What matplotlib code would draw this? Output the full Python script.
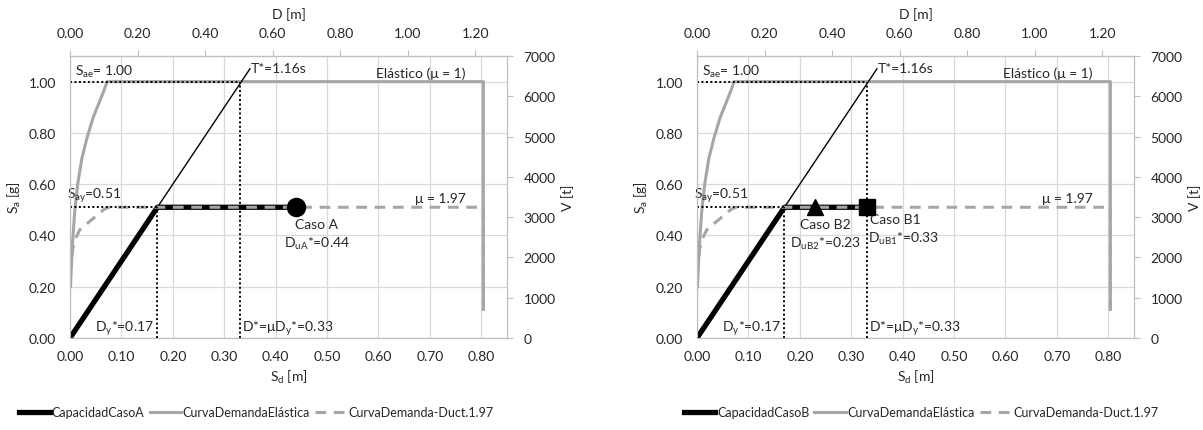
import matplotlib
matplotlib.use("Agg")
import matplotlib.pyplot as plt
from matplotlib.lines import Line2D

plt.rcParams['font.family'] = ['Lato', 'DejaVu Sans']
plt.rcParams['mathtext.fontset'] = 'custom'
plt.rcParams['mathtext.rm'] = 'Lato'
plt.rcParams['mathtext.default'] = 'regular'
FS = 10
plt.rcParams['font.size'] = FS

# ---------------- data ----------------
sd_cap_A = [0.0, 0.17, 0.44]
sa_cap_A = [0.0, 0.51, 0.51]
sd_cap_B = [0.0, 0.17, 0.33]
sa_cap_B = [0.0, 0.51, 0.51]

sd_elastic = [0.001, 0.002, 0.005, 0.009, 0.015, 0.023, 0.033, 0.045, 0.057, 0.066, 0.072, 0.804, 0.804]
sa_elastic = [0.20, 0.256, 0.372, 0.49, 0.60, 0.70, 0.78, 0.86, 0.92, 0.965, 1.00, 1.00, 0.13]

sd_ductile = [0.001, 0.003, 0.005, 0.0097, 0.019, 0.042, 0.065, 0.075, 0.804, 0.804]
sa_ductile = [0.25, 0.306, 0.345, 0.384, 0.422, 0.461, 0.50, 0.51, 0.51, 0.08]

sd_period = [0.0, 0.35]
sa_period = [0.0, 1.05]

Sae = 1.00
Say = 0.51
Dy = 0.17
Dmu = 0.33
mu = 1.97
T_star = 1.16

caseA_sd = 0.44
caseB1_sd = 0.33
caseB2_sd = 0.23

D_factor = 1.522       # D [m] / Sd [m]
V_max = 7000           # V [t] at top of axis
sa_top = 1.1

xticks_sd = [0.0, 0.1, 0.2, 0.3, 0.4, 0.5, 0.6, 0.7, 0.8]
yticks_sa = [0.0, 0.2, 0.4, 0.6, 0.8, 1.0]
xticks_D = [0.0, 0.2, 0.4, 0.6, 0.8, 1.0, 1.2]
yticks_V = [0, 1000, 2000, 3000, 4000, 5000, 6000, 7000]

GRAY = '#a6a6a6'
GRID = '#d9d9d9'
SPINE = '#bfbfbf'
TXT = '#262626'

fig = plt.figure(figsize=(12.03, 4.31), dpi=100)
W, H = 1203, 431


def panel(x0, x1, cap_sd, cap_sa, cap_label, markers, legend_cx):
    ax = fig.add_axes([x0 / W, 1 - 339 / H, (x1 - x0) / W, (339 - 57) / H])
    ax.set_xlim(0, 0.85)
    ax.set_ylim(0, sa_top)
    ax.set_xticks(xticks_sd)
    ax.set_yticks(yticks_sa)
    ax.set_xticklabels([f"{v:.2f}" for v in xticks_sd])
    ax.set_yticklabels([f"{v:.2f}" for v in yticks_sa])
    ax.grid(True, color=GRID, lw=0.9, zorder=0)
    ax.set_axisbelow(True)
    for s in ax.spines.values():
        s.set_color(SPINE)
    ax.tick_params(axis='x', length=0, colors=TXT, labelsize=FS, pad=9)
    ax.tick_params(axis='y', length=0, colors=TXT, labelsize=FS, pad=10)

    # elastic and ductile demand
    ax.plot(sd_elastic, sa_elastic, color=GRAY, lw=2.2, zorder=3, solid_joinstyle='round')
    # capacity
    ax.plot(cap_sd, cap_sa, color='black', lw=3.8, zorder=4, solid_capstyle='butt')
    ax.plot(sd_ductile, sa_ductile, color=GRAY, lw=2.2, ls=(0, (3.5, 2.5)), zorder=5)
    # period line
    ax.plot(sd_period, sa_period, color='black', lw=1.0, zorder=4)
    # dotted guides
    dot = dict(color='black', lw=1.4, ls=(0, (1, 1.3)), zorder=6)
    ax.plot([0, Dmu], [Sae, Sae], **dot)
    ax.plot([Dmu, Dmu], [0, Sae], **dot)
    ax.plot([0, Dy], [Say, Say], **dot)
    ax.plot([Dy, Dy], [0, Say], **dot)

    for (xm, mk, ms) in markers:
        ax.plot([xm], [Say], marker=mk, color='black', ms=ms, zorder=7, ls='none')

    # texts
    ax.text(0.01, Sae + 0.012, r"S$_{ae}$= 1.00", ha='left', va='bottom', color=TXT)
    ax.text(0.352, 1.055, f"T*={T_star:.2f}s", ha='left', va='center', color=TXT)
    ax.text(0.77, Sae + 0.012, "Elástico (μ = 1)", ha='right', va='bottom', color=TXT)
    ax.text(-0.006, Say + 0.012, r"S$_{ay}$=0.51", ha='left', va='bottom', color=TXT)
    ax.text(0.77, Say + 0.012, f"μ = {mu:.2f}", ha='right', va='bottom', color=TXT)
    ax.text(Dy - 0.006, 0.04, r"D$_{y}$*=0.17", ha='right', va='center', color=TXT)
    ax.text(Dmu + 0.004, 0.04, r"D*=μD$_{y}$*=0.33", ha='left', va='center', color=TXT)

    ax.set_xlabel(r"S$_{d}$ [m]", color=TXT, labelpad=4)
    ax.set_ylabel(r"S$_{a}$ [g]", color=TXT, labelpad=4)

    # top axis
    sec = ax.secondary_xaxis('top', functions=(lambda x: x * D_factor, lambda x: x / D_factor))
    sec.set_xticks(xticks_D)
    sec.set_xticklabels([f"{v:.2f}" for v in xticks_D])
    sec.tick_params(length=4, color=SPINE, colors=TXT, labelsize=FS, pad=8, direction='out')
    sec.spines['top'].set_color(SPINE)
    sec.set_xlabel("D [m]", color=TXT, labelpad=7)

    # right axis
    tw = ax.twinx()
    tw.set_ylim(0, V_max)
    tw.set_yticks(yticks_V)
    tw.set_yticklabels([str(v) for v in yticks_V])
    tw.tick_params(length=4, color=SPINE, colors=TXT, labelsize=FS, pad=8, direction='out')
    for s in tw.spines.values():
        s.set_color(SPINE)
    tw.set_ylabel("V [t]", color=TXT, labelpad=4)

    handles = [Line2D([], [], color='black', lw=3.8),
               Line2D([], [], color=GRAY, lw=2.2),
               Line2D([], [], color=GRAY, lw=2.2, ls=(0, (3.5, 2.5)))]
    labels = [cap_label, "CurvaDemandaElástica", "CurvaDemanda-Duct.1.97"]
    fig.legend(handles, labels, loc='center', bbox_to_anchor=(legend_cx / W, 1 - 413 / H),
               ncol=3, frameon=False, handlelength=2.5, handletextpad=0.15,
               columnspacing=0.4, fontsize=9, labelcolor=TXT)
    return ax


axA = panel(70, 507, sd_cap_A, sa_cap_A, "CapacidadCasoA", [(caseA_sd, 'o', 13)], 256)
axA.text(caseA_sd + 0.04, 0.445, "Caso A", ha='center', va='center', color=TXT)
axA.text(caseA_sd + 0.04, 0.37, r"D$_{uA}$*=0.44", ha='center', va='center', color=TXT)

axB = panel(697, 1134, sd_cap_B, sa_cap_B, "CapacidadCasoB",
            [(caseB2_sd, '^', 11), (caseB1_sd, 's', 12)], 921)
axB.text(caseB2_sd + 0.02, 0.445, "Caso B2", ha='center', va='center', color=TXT)
axB.text(caseB2_sd + 0.02, 0.37, r"D$_{uB2}$*=0.23", ha='center', va='center', color=TXT)
axB.text(caseB1_sd + 0.006, 0.465, "Caso B1", ha='left', va='center', color=TXT)
axB.text(caseB1_sd + 0.003, 0.39, r"D$_{uB1}$*=0.33", ha='left', va='center', color=TXT)

fig.savefig("out.png", dpi=100)
